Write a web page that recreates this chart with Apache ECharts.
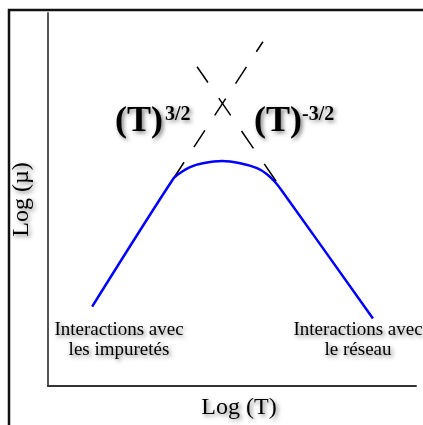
<!DOCTYPE html>
<html>
<head>
<meta charset="utf-8">
<script src="https://cdn.jsdelivr.net/npm/echarts@6/dist/echarts.min.js"></script>
<style>
  html, body { margin: 0; padding: 0; background: #fff; }
  #chart { width: 423px; height: 425px; }
</style>
</head>
<body>
<div id="chart"></div>
<script>
// Courbe de mobilité (log T, log mu)
const logT = [1.20, 3.40, 3.59, 3.86, 4.21, 4.73, 5.22, 5.68, 5.95, 6.17, 6.36, 8.83]
const logMu = [2.13, 5.55, 5.71, 5.87, 5.97, 6.03, 5.97, 5.84, 5.68, 5.47, 5.23, 1.81]

// Asymptotes en pointillés : T^(3/2) et T^(-3/2)
const asymLeftT = [3.40, 5.84]
const asymLeftMu = [5.55, 9.23]
const asymRightT = [6.20, 4.05]
const asymRightMu = [5.49, 8.56]

const serif = '"Liberation Serif", "DejaVu Serif", serif'
const shadow = {
  textShadowColor: 'rgba(0, 0, 0, 0.5)',
  textShadowBlur: 4,
  textShadowOffsetX: 2,
  textShadowOffsetY: 2
}

const zip = (xs, ys) => xs.map((x, i) => [x, ys[i]])

const chart = echarts.init(document.getElementById('chart'))

const option = {
  animation: false,
  backgroundColor: '#fff',
  grid: { left: 48, top: 13, right: 7, bottom: 37 },
  xAxis: {
    type: 'value',
    min: 0,
    max: 10,
    name: 'Log (T)',
    nameLocation: 'middle',
    nameGap: 10,
    nameTextStyle: {
      fontFamily: serif,
      fontSize: 24,
      color: '#000',
      verticalAlign: 'top',
      padding: [0, 0, 0, 14],
      ...shadow
    },
    axisLine: { lineStyle: { color: '#333', width: 2 } },
    axisTick: { show: false },
    axisLabel: { show: false },
    splitLine: { show: false }
  },
  yAxis: {
    type: 'value',
    min: 0,
    max: 10,
    name: 'Log (µ)',
    nameLocation: 'middle',
    nameGap: 14,
    nameTextStyle: {
      fontFamily: serif,
      fontSize: 24,
      color: '#000',
      ...shadow
    },
    axisLine: { lineStyle: { color: '#555', width: 2 } },
    axisTick: { show: false },
    axisLabel: { show: false },
    splitLine: { show: false }
  },
  series: [
    {
      name: 'asymptote T^3/2',
      type: 'line',
      data: zip(asymLeftT, asymLeftMu),
      symbol: 'none',
      lineStyle: { color: '#000', width: 1.5, type: [20, 18] },
      z: 1
    },
    {
      name: 'asymptote T^-3/2',
      type: 'line',
      data: zip(asymRightT, asymRightMu),
      symbol: 'none',
      lineStyle: { color: '#000', width: 1.5, type: [21, 19] },
      z: 1
    },
    {
      name: 'mobilité',
      type: 'line',
      data: zip(logT, logMu),
      symbol: 'none',
      smooth: 0.3,
      lineStyle: { color: '#0000ff', width: 2.5 },
      z: 2
    }
  ],
  graphic: [
    {
      type: 'polyline',
      shape: { points: [[9, 425], [9, 10], [423, 10]] },
      style: { stroke: '#111', lineWidth: 2.5, fill: null }
    },
    {
      type: 'text',
      style: { text: '(T)', x: 115, y: 122, align: 'left', verticalAlign: 'middle',
        font: 'bold 36px ' + serif, fill: '#000', ...shadow }
    },
    {
      type: 'text',
      style: { text: '3/2', x: 165, y: 115, align: 'left', verticalAlign: 'middle',
        font: 'bold 20px ' + serif, fill: '#000', ...shadow }
    },
    {
      type: 'text',
      style: { text: '(T)', x: 254, y: 122, align: 'left', verticalAlign: 'middle',
        font: 'bold 36px ' + serif, fill: '#000', ...shadow }
    },
    {
      type: 'text',
      style: { text: '-3/2', x: 302, y: 115, align: 'left', verticalAlign: 'middle',
        font: 'bold 20px ' + serif, fill: '#000', ...shadow }
    },
    {
      type: 'text',
      style: { text: 'Interactions avec\nles impuretés', x: 119, y: 340, align: 'center', verticalAlign: 'middle',
        font: '19px ' + serif, lineHeight: 20, fill: '#000', ...shadow }
    },
    {
      type: 'text',
      style: { text: 'Interactions avec\nle réseau', x: 358, y: 340, align: 'center', verticalAlign: 'middle',
        font: '19px ' + serif, lineHeight: 20, fill: '#000', ...shadow }
    }
  ]
}

chart.setOption(option)
</script>
</body>
</html>
